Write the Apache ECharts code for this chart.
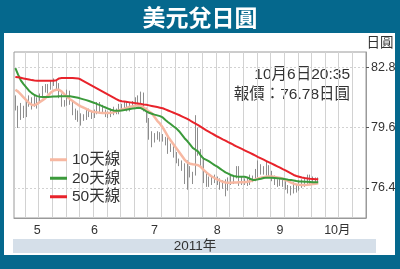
<!DOCTYPE html>
<html><head><meta charset="utf-8">
<script src="https://cdn.jsdelivr.net/npm/echarts@6/dist/echarts.min.js"></script>
<style>html,body{margin:0;padding:0;background:#fff}#c{width:400px;height:269px}</style>
</head><body><div id="c"></div>
<script>
const dates = ['5/4','5/5','5/6','5/9','5/10','5/11','5/12','5/13','5/16','5/17','5/18','5/19','5/20','5/23','5/24','5/25','5/26','5/27','5/30','5/31',
'6/1','6/2','6/3','6/6','6/7','6/8','6/9','6/10','6/13','6/14','6/15','6/16','6/17','6/20','6/21','6/22','6/23','6/24','6/27','6/28','6/29','6/30',
'7/1','7/4','7/5','7/6','7/7','7/8','7/11','7/12','7/13','7/14','7/15','7/18','7/19','7/20','7/21','7/22','7/25','7/26','7/27','7/28','7/29',
'8/1','8/2','8/3','8/4','8/5','8/8','8/9','8/10','8/11','8/12','8/15','8/16','8/17','8/18','8/19','8/22','8/23','8/24','8/25','8/26','8/29','8/30','8/31',
'9/1','9/2','9/5','9/6','9/7','9/8','9/9','9/12','9/13','9/14','9/15','9/16','9/19','9/20','9/21','9/22','9/23','9/26','9/27','9/28','9/29','9/30',
'10/3','10/4','10/5','10/6','10/7','10/10','10/11','10/12','10/13','10/14','10/17','10/18','10/19','10/20','10/21','10/24','10/25','10/26','10/27','10/28','10/31'];

const opens = [81.10,80.60,80.20,80.60,80.20,80.90,80.90,81.05,80.80,81.10,81.25,81.70,81.65,81.70,81.95,82.05,81.80,81.30,80.85,80.90,
81.50,80.95,80.45,80.35,80.10,80.10,80.10,80.40,80.35,80.20,80.40,80.85,80.70,80.50,80.25,80.30,80.40,80.45,80.40,80.70,80.70,80.80,
80.55,80.80,80.90,81.05,80.95,81.30,80.60,80.00,79.20,79.10,79.05,79.15,79.00,79.00,78.80,78.45,78.55,78.20,77.75,77.70,77.60,
76.75,77.45,77.00,77.10,79.20,78.40,77.80,77.05,76.90,76.65,76.80,76.90,76.80,76.55,76.55,76.60,76.90,76.65,76.95,77.45,76.70,76.80,76.70,
76.65,77.00,76.85,77.30,77.55,77.30,77.40,77.55,77.25,76.90,76.60,76.65,76.80,76.60,76.45,76.30,76.35,76.55,76.30,76.70,76.50,76.75,
77.00,76.90,76.75,76.80];
const closes = [80.60,80.20,80.60,80.20,80.90,80.90,81.05,80.80,81.10,81.25,81.70,81.65,81.70,81.95,82.05,81.80,81.30,80.85,80.90,81.50,
80.95,80.45,80.35,80.10,80.10,80.10,80.40,80.35,80.20,80.40,80.85,80.70,80.50,80.25,80.30,80.40,80.45,80.40,80.70,80.70,80.80,80.55,
80.80,80.90,81.05,80.95,81.30,80.60,80.00,79.20,79.10,79.05,79.15,79.00,79.00,78.80,78.45,78.55,78.20,77.75,77.70,77.60,76.75,
77.45,77.00,77.10,79.20,78.40,77.80,77.05,76.90,76.65,76.80,76.90,76.80,76.55,76.55,76.60,76.90,76.65,76.95,77.45,76.70,76.80,76.70,76.65,
77.00,76.85,77.30,77.55,77.30,77.40,77.55,77.25,76.90,76.60,76.65,76.80,76.60,76.45,76.30,76.35,76.55,76.30,76.70,76.50,76.75,77.00,
76.90,76.75,76.80,76.78];
const lows = [80.50,79.57,80.00,80.10,80.15,80.70,80.55,80.70,80.60,80.90,81.15,81.45,81.40,81.60,81.80,81.60,81.15,80.70,80.70,80.75,
80.80,80.25,80.00,79.90,79.70,79.95,80.00,80.15,80.05,80.10,80.30,80.40,80.35,80.15,80.10,80.15,80.25,80.30,80.30,80.55,80.55,80.45,
80.45,80.70,80.75,80.85,80.85,80.45,79.85,78.95,78.55,78.80,78.95,78.85,78.85,78.65,78.20,78.30,78.00,77.70,77.55,77.30,76.60,
76.30,76.95,76.60,77.05,78.10,77.55,76.65,76.45,76.45,76.55,76.65,76.55,76.30,76.35,75.95,76.25,76.55,76.60,76.90,76.50,76.55,76.55,76.50,
76.55,76.70,76.75,76.95,77.10,77.10,77.05,76.95,76.75,76.55,76.45,76.50,76.45,76.30,76.10,76.00,76.10,76.15,76.25,76.40,76.45,76.55,
76.60,76.55,76.55,76.65];
const highs = [81.30,80.75,80.90,80.75,81.00,81.30,81.20,81.30,81.20,81.40,81.80,81.90,81.90,82.10,82.20,82.15,81.95,81.40,81.05,81.60,
81.55,81.05,80.60,80.50,80.35,80.30,80.55,80.60,80.45,80.55,80.95,80.95,80.80,80.55,80.45,80.60,80.70,80.60,80.85,80.85,80.95,80.95,
80.95,81.00,81.20,81.30,81.50,81.45,80.65,80.10,79.40,79.30,79.40,79.35,79.25,79.10,79.10,78.75,78.60,78.30,77.95,77.85,77.70,
77.85,77.55,77.25,80.25,79.60,78.45,78.00,77.20,77.00,77.00,77.10,77.00,76.90,76.80,76.85,76.95,77.05,77.05,77.55,77.55,77.00,76.90,76.95,
77.10,77.05,77.40,77.85,77.65,77.55,77.80,77.60,77.30,77.05,76.85,76.90,76.85,76.75,76.55,76.50,76.70,76.60,76.80,76.85,76.90,77.10,
77.10,77.00,76.95,76.95];

const ma10 = [81.6,81.5,81.35,81.2,81.05,80.9,80.8,80.78,80.85,80.95,
81.05,81.15,81.3,81.45,81.55,81.6,81.6,81.5,81.35,81.22,
81.1,81.0,80.9,80.8,80.72,80.65,80.58,80.5,80.45,80.42,
80.4,80.38,80.37,80.37,80.37,80.38,80.4,80.45,80.5,80.55,
80.6,80.65,80.7,80.72,80.75,80.78,80.75,80.65,80.55,80.45,
80.35,80.15,79.95,79.8,79.6,79.35,79.1,78.9,78.7,78.5,
78.3,78.1,77.9,77.75,77.68,77.65,77.63,77.6,77.5,77.35,
77.22,77.1,77.0,76.92,76.85,76.78,76.72,76.68,76.67,76.67,
76.68,76.68,76.69,76.7,76.7,76.72,76.75,76.8,76.85,76.9,
76.93,76.96,76.99,77.0,77.0,76.98,76.95,76.92,76.88,76.82,
76.75,76.68,76.62,76.58,76.56,76.55,76.55,76.56,76.58,76.6,
76.62,76.64];
const ma20 = [82.74,82.4,82.1,81.9,81.72,81.55,81.42,81.32,81.26,81.23,
81.22,81.22,81.22,81.23,81.24,81.24,81.25,81.25,81.25,81.26,
81.25,81.23,81.2,81.17,81.13,81.09,81.05,81.0,80.95,80.9,
80.84,80.78,80.72,80.66,80.6,80.54,80.5,80.48,80.48,80.5,
80.52,80.55,80.58,80.6,80.62,80.64,80.63,80.55,80.45,80.38,
80.33,80.28,80.24,80.2,80.13,80.0,79.88,79.77,79.65,79.55,
79.4,79.22,79.03,78.88,78.7,78.52,78.42,78.32,78.1,77.95,
77.88,77.8,77.7,77.6,77.52,77.42,77.32,77.22,77.15,77.08,
77.03,77.0,76.99,76.99,76.99,76.95,76.88,76.82,76.82,76.85,
76.88,76.92,76.94,76.94,76.93,76.92,76.91,76.9,76.88,76.86,
76.83,76.81,76.79,76.76,76.74,76.73,76.72,76.72,76.71,76.7,
76.7,76.69];
const ma50 = [82.28,82.26,82.23,82.2,82.17,82.14,82.11,82.09,82.08,82.08,
82.08,82.08,82.08,82.08,82.08,82.1,82.2,82.22,82.22,82.22,
82.22,82.22,82.21,82.2,82.14,82.06,81.98,81.9,81.82,81.74,
81.66,81.58,81.5,81.42,81.34,81.26,81.18,81.1,81.03,80.99,
80.97,80.95,80.93,80.91,80.89,80.87,80.85,80.82,80.8,80.77,
80.74,80.71,80.68,80.65,80.62,80.56,80.5,80.44,80.38,80.32,
80.26,80.19,80.12,80.05,79.97,79.88,79.8,79.72,79.63,79.54,
79.45,79.37,79.28,79.2,79.12,79.05,78.97,78.9,78.82,78.75,
78.67,78.6,78.53,78.46,78.39,78.32,78.25,78.18,78.11,78.03,
77.96,77.89,77.82,77.75,77.68,77.61,77.54,77.47,77.39,77.32,
77.24,77.16,77.08,77.03,76.99,76.95,76.92,76.9,76.88,76.87,
76.86,76.85];

const monthTickDates = ['6/1','7/1','8/1','9/1','10/3'];
const monthLabelDates = ['5/16','6/14','7/14','8/16','9/16','10/17'];
const monthLabels = ['5','6','7','8','9','10月'];
const yTickValues = [76.4, 79.6, 82.8];
const seriesNames = ['10天線','20天線','50天線'];

const FONT = '"Liberation Sans","Noto Sans CJK TC",sans-serif';
const TEAL = '#05688d';
const candles = opens.map((o, i) => [o, closes[i], lows[i], highs[i]]);

const chart = echarts.init(document.getElementById('c'), null, {renderer: 'canvas'});
chart.setOption({
  animation: false,
  backgroundColor: '#fff',
  textStyle: {fontFamily: FONT},
  grid: {left: 14, right: 34, top: 52, bottom: 51, show: true, borderColor: '#9a9a9a', borderWidth: 1},
  xAxis: {
    type: 'category', data: dates, boundaryGap: true,
    axisLine: {lineStyle: {color: '#9a9a9a'}},
    axisTick: {inside: true, length: 4, interval: (i, v) => monthTickDates.includes(v), lineStyle: {color: '#444'}},
    axisLabel: {interval: (i, v) => monthLabelDates.includes(v), formatter: v => monthLabels[monthLabelDates.indexOf(v)] || '',
      color: '#333', fontSize: 12.5, margin: 6, fontFamily: FONT},
    splitLine: {show: true, interval: (i) => i % 5 === 4, lineStyle: {color: '#d2d2d2', width: 1}}
  },
  yAxis: {
    type: 'value', position: 'right', min: 74.8, max: 83.6, interval: 0.4,
    axisLine: {show: true, lineStyle: {color: '#9a9a9a'}},
    axisTick: {show: true, length: 3, customValues: yTickValues, lineStyle: {color: '#555'}},
    axisLabel: {customValues: yTickValues, formatter: v => v.toFixed(1), color: '#333', fontSize: 12.5, margin: 5, fontFamily: FONT},
    splitLine: {show: true, lineStyle: {color: '#d2d2d2', type: [2, 2], width: 1}}
  },
  legend: {
    data: seriesNames, orient: 'vertical', left: 45, top: 147, itemWidth: 17, itemHeight: 3, itemGap: 3,
    icon: 'rect', textStyle: {fontSize: 15.5, color: '#333', fontFamily: FONT}, selectedMode: false
  },
  series: [
    {type: 'candlestick', data: candles, barWidth: 1,
      itemStyle: {color: '#8e8e8e', color0: '#8e8e8e', borderColor: '#8e8e8e', borderColor0: '#8e8e8e', borderWidth: 1}},
    {name: seriesNames[0], type: 'line', data: ma10, showSymbol: false, color: '#f7b8a2', lineStyle: {width: 2.5, color: '#f7b8a2'}},
    {name: seriesNames[1], type: 'line', data: ma20, showSymbol: false, color: '#3b9a3b', lineStyle: {width: 2, color: '#3b9a3b'}},
    {name: seriesNames[2], type: 'line', data: ma50, showSymbol: false, color: '#e8232b', lineStyle: {width: 2, color: '#e8232b'}}
  ],
  graphic: [
    {type: 'rect', shape: {x: 0, y: 0, width: 400, height: 33}, style: {fill: TEAL}, silent: true},
    {type: 'rect', shape: {x: 0, y: 0, width: 4, height: 269}, style: {fill: TEAL}, silent: true},
    {type: 'rect', shape: {x: 395, y: 0, width: 5, height: 269}, style: {fill: TEAL}, silent: true},
    {type: 'rect', shape: {x: 0, y: 255, width: 400, height: 14}, style: {fill: TEAL}, silent: true},
    {type: 'rect', shape: {x: 13, y: 239, width: 363, height: 14}, style: {fill: '#d5dfe9'}, silent: true},
    {type: 'text', x: 200, y: 17, style: {text: '美元兌日圓', fill: '#fff', font: 'bold 23px "Noto Sans CJK TC",sans-serif', textAlign: 'center', textVerticalAlign: 'middle', align: 'center', verticalAlign: 'middle'}},
    {type: 'text', x: 195, y: 246.5, style: {text: '2011年', fill: '#333', font: '13.5px ' + FONT, textAlign: 'center', textVerticalAlign: 'middle', align: 'center', verticalAlign: 'middle'}},
    {type: 'text', x: 380, y: 43, style: {text: '日圓', fill: '#333', font: '13.5px ' + FONT, textAlign: 'center', textVerticalAlign: 'middle', align: 'center', verticalAlign: 'middle'}},
    {type: 'text', x: 350, y: 75, style: {text: '10月6日20:35', fill: '#333', font: '15.5px ' + FONT, textAlign: 'right', textVerticalAlign: 'middle', align: 'right', verticalAlign: 'middle'}},
    {type: 'text', x: 350, y: 95, style: {text: '報價：76.78日圓', fill: '#333', font: '15.5px ' + FONT, textAlign: 'right', textVerticalAlign: 'middle', align: 'right', verticalAlign: 'middle'}}
  ]
});
</script></body></html>
